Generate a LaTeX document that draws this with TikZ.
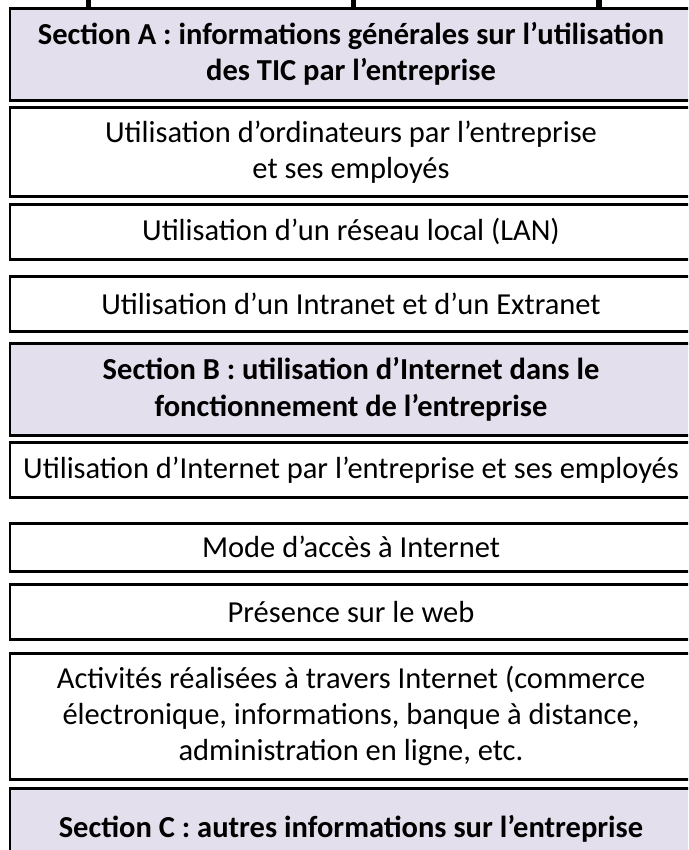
\documentclass[tikz,border=0pt]{standalone}
\usepackage{fontspec}
\setmainfont{Carlito}
\definecolor{lavande}{HTML}{E4DFEC}

\begin{document}
\begin{tikzpicture}[x=1pt,y=-1pt]
  \tikzstyle{box}=[draw=black,line width=2.6pt,minimum width=682pt,anchor=north,
    align=center,inner sep=0pt,font=\fontsize{30.5}{36}\selectfont]
  \tikzstyle{section}=[box,fill=lavande,font=\fontsize{30.5}{36}\selectfont\bfseries]
  \tikzstyle{item}=[box,fill=white]
  \useasboundingbox (0,0) rectangle (688,850);
  \clip (0,0) rectangle (688,850);
  % bits of the heading line above the frame
  \fill (86,0) rectangle (91,7);
  \fill (351,0) rectangle (356,7);
  \fill (596,0) rectangle (602,7);
  % section A
  \node [section,minimum height=92pt] (secA) at (351,7)
    {Section A : informations générales sur l’utilisation\\des TIC par l’entreprise};
  \node [item,minimum height=89pt] (ordi) at (351,106)
    {Utilisation d’ordinateurs par l’entreprise\\et ses employés};
  \node [item,minimum height=55pt] (lan) at (351,203)
    {Utilisation d’un réseau local (LAN)};
  \node [item,minimum height=55pt] (intra) at (351,275)
    {Utilisation d’un Intranet et d’un Extranet};
  % section B
  \node [section,minimum height=92pt] (secB) at (351,342)
    {Section B : utilisation d’Internet dans le\\fonctionnement de l’entreprise};
  \node [item,minimum height=55pt] (usage) at (351,441)
    {Utilisation d’Internet par l’entreprise et ses employés};
  \node [item,minimum height=48pt] (acces) at (351,522)
    {Mode d’accès à Internet};
  \node [item,minimum height=55pt] (web) at (351,583)
    {Présence sur le web};
  \node [item,minimum height=126pt] (activ) at (351,652)
    {Activités réalisées à travers Internet (commerce\\électronique, informations, banque  à distance,\\administration en ligne, etc.};
  % section C
  \node [section,minimum height=80pt] (secC) at (351,787)
    {Section C : autres informations sur l’entreprise};
\end{tikzpicture}
\end{document}
